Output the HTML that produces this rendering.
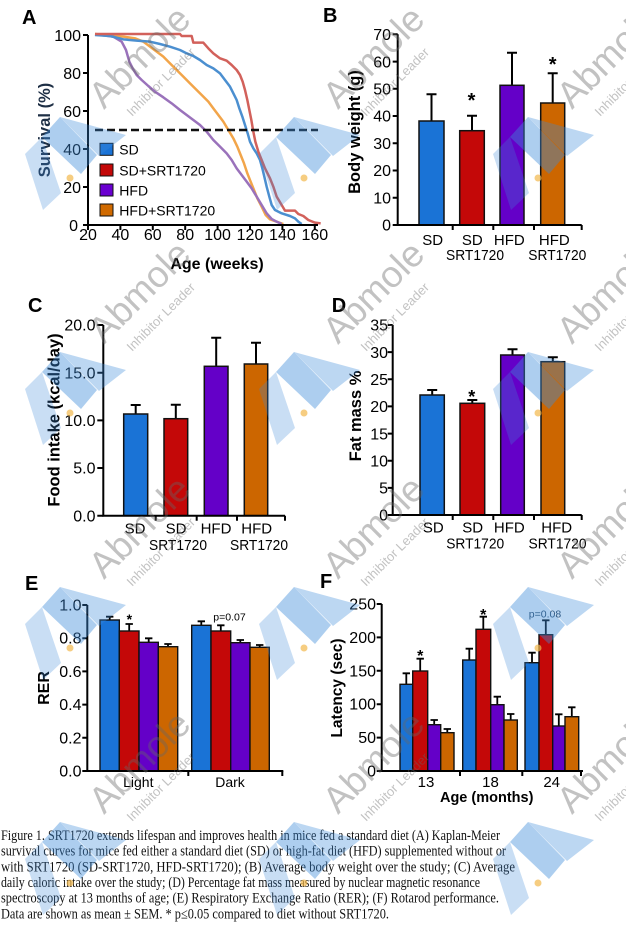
<!DOCTYPE html>
<html><head><meta charset="utf-8"><style>
html,body{margin:0;padding:0;background:#fff;}
svg{display:block;}
</style></head><body>
<svg width="626" height="951" viewBox="0 0 626 951" xmlns="http://www.w3.org/2000/svg" font-family="'Liberation Sans', Arial, sans-serif">
<rect width="626" height="951" fill="#fff"/>

<!-- ===== Panel A ===== -->
<text x="22" y="24" font-size="20" font-weight="bold">A</text>
<g transform="scale(0.333333)" fill="none" stroke-width="7.5" stroke-linejoin="round">
<polyline stroke="#f2a54a" points="285,102 330,106 370,110 405,115 430,125 450,140 470,155 490,170 510,190 530,210 550,230 570,250 590,270 610,290 625,305 640,325 655,345 670,365 685,390 700,415 712,440 722,465 732,490 742,520 752,545 762,570 772,595 785,620 797,645 810,658 830,665 850,672"/>
<polyline stroke="#9a72bb" points="285,103 340,110 365,125 378,150 388,185 398,205 410,225 425,240 445,258 465,275 490,292 515,310 540,330 560,345 580,360 600,375 620,395 640,420 660,440 680,460 695,480 710,505 725,525 740,545 755,565 770,590 785,615 800,640 815,657 830,665 845,672"/>
<polyline stroke="#4b8fd0" points="285,105 330,108 370,118 410,122 450,125 480,132 510,140 540,150 560,160 580,168 600,180 620,195 640,205 660,220 675,240 690,260 700,280 710,300 718,325 727,350 735,375 743,400 750,425 760,445 770,460 780,480 787,505 793,530 800,560 808,590 815,615 825,630 845,640 870,648 885,655 895,665 905,672"/>
<polyline stroke="#d2615b" points="285,102 540,102 545,108 575,108 580,128 610,128 625,145 640,160 660,175 680,182 695,195 710,210 720,225 728,245 735,270 742,300 748,330 754,360 760,395 766,425 775,455 785,480 795,505 810,535 820,560 830,590 845,615 855,632 885,632 895,642 910,648 925,660 945,668 962,670"/>
</g>
<line x1="95" y1="130" x2="318" y2="130" stroke="#111" stroke-width="2.5" stroke-dasharray="8 4"/>
<path d="M88,35 V225 H318" stroke="#000" stroke-width="2" fill="none"/>
<path d="M83,35H88 M83,73H88 M83,111H88 M83,149H88 M83,187H88 M83,225H88 M88,225V230 M120.4,225V230 M152.8,225V230 M185.2,225V230 M217.6,225V230 M250,225V230 M282.4,225V230 M314.8,225V230" stroke="#000" stroke-width="2"/>
<g font-size="16" text-anchor="end">
<text x="81" y="41">100</text><text x="81" y="79">80</text><text x="81" y="117">60</text><text x="81" y="155">40</text><text x="81" y="193">20</text><text x="78" y="231">0</text>
</g>
<g font-size="16" text-anchor="middle">
<text x="88" y="240">20</text><text x="120.4" y="240">40</text><text x="152.8" y="240">60</text><text x="185.2" y="240">80</text><text x="217.6" y="240">100</text><text x="250" y="240">120</text><text x="282.4" y="240">140</text><text x="314.8" y="240">160</text>
</g>
<text x="217" y="269" font-size="16" font-weight="bold" text-anchor="middle">Age (weeks)</text>
<text transform="translate(50,130) rotate(-90)" font-size="16.5" font-weight="bold" text-anchor="middle" fill="#1e2f45">Survival (%)</text>
<g stroke="#111" stroke-width="1">
<rect x="100" y="143.3" width="13" height="12" fill="#1a73d6"/>
<rect x="100" y="164" width="13" height="12" fill="#c40808"/>
<rect x="100" y="184" width="13" height="12" fill="#6a00d0"/>
<rect x="100" y="204" width="13" height="12" fill="#d06a00"/>
</g>
<g font-size="14">
<text x="119.3" y="154.5">SD</text><text x="119.3" y="175.5">SD+SRT1720</text><text x="119.3" y="195.5">HFD</text><text x="119.3" y="215.5">HFD+SRT1720</text>
</g>

<!-- ===== Panel B ===== -->
<text x="323" y="22" font-size="20" font-weight="bold">B</text>
<g stroke="#000" stroke-width="2">
<path d="M431.5,121V94.3 M426.5,94.3H436.5 M472,130.7V115.7 M467,115.7H477 M512,85.3V52.7 M507,52.7H517 M552.7,103V73.3 M547.7,73.3H557.7"/>
</g>
<g stroke="#111" stroke-width="1.5">
<rect x="419" y="121" width="25" height="104" fill="#1a73d6"/>
<rect x="459.7" y="130.7" width="24.6" height="94.3" fill="#c40808"/>
<rect x="500" y="85.3" width="24" height="139.7" fill="#6400c8"/>
<rect x="540.7" y="103" width="24" height="122" fill="#cc6600"/>
</g>
<path d="M397.7,34.3 V225 H581.7" stroke="#000" stroke-width="2" fill="none"/>
<path d="M392.7,34.3H397.7 M392.7,61.6H397.7 M392.7,88.8H397.7 M392.7,116H397.7 M392.7,143.3H397.7 M392.7,170.5H397.7 M392.7,197.8H397.7 M392.7,225H397.7 M452.7,225V230 M493.3,225V230 M534,225V230 M581.7,225V230" stroke="#000" stroke-width="2"/>
<g font-size="16" text-anchor="end">
<text x="391" y="40">70</text><text x="391" y="67.3">60</text><text x="391" y="94.5">50</text><text x="391" y="121.7">40</text><text x="391" y="149">30</text><text x="391" y="176.2">20</text><text x="391" y="203.5">10</text><text x="391" y="230.7">0</text>
</g>
<g font-size="15" text-anchor="middle">
<text x="432.7" y="245">SD</text><text x="472.3" y="245">SD</text><text x="509.3" y="245">HFD</text><text x="554.3" y="245">HFD</text>
<text x="475" y="260" textLength="58" lengthAdjust="spacingAndGlyphs">SRT1720</text><text x="557.3" y="260" textLength="58" lengthAdjust="spacingAndGlyphs">SRT1720</text>
</g>
<text x="471.5" y="107" font-size="20" font-weight="bold" text-anchor="middle">*</text>
<text x="552.7" y="71" font-size="20" font-weight="bold" text-anchor="middle">*</text>
<text transform="translate(360,132) rotate(-90)" font-size="16.5" font-weight="bold" text-anchor="middle">Body weight (g)</text>

<!-- ===== Panel C ===== -->
<text x="28" y="312" font-size="20" font-weight="bold">C</text>
<g stroke="#000" stroke-width="2">
<path d="M135.7,414V405 M130.7,405H140.7 M175.8,418.7V404.7 M170.8,404.7H180.8 M216.2,366.3V337.7 M211.2,337.7H221.2 M256,364V342.7 M251,342.7H261"/>
</g>
<g stroke="#111" stroke-width="1.5">
<rect x="123.7" y="414" width="24" height="101.7" fill="#1a73d6"/>
<rect x="164" y="418.7" width="23.7" height="97" fill="#c40808"/>
<rect x="204.3" y="366.3" width="23.7" height="149.4" fill="#6400c8"/>
<rect x="244.3" y="364" width="23.4" height="151.7" fill="#cc6600"/>
</g>
<path d="M103.3,325 V515.7 H285" stroke="#000" stroke-width="2" fill="none"/>
<path d="M97.3,325H103.3 M97.3,372.7H103.3 M97.3,420.4H103.3 M97.3,468H103.3 M97.3,515.7H103.3 M155.7,515.7V520.7 M196.7,515.7V520.7 M237,515.7V520.7 M285,515.7V520.7" stroke="#000" stroke-width="2"/>
<g font-size="16" text-anchor="end">
<text x="95.5" y="330.7">20.0</text><text x="95.5" y="378.4">15.0</text><text x="95.5" y="426">10.0</text><text x="95.5" y="473.7">5.0</text><text x="95.5" y="521.4">0.0</text>
</g>
<g font-size="15" text-anchor="middle">
<text x="135" y="533.5">SD</text><text x="176" y="533.5">SD</text><text x="216" y="533.5">HFD</text><text x="256.7" y="533.5">HFD</text>
<text x="178" y="550" textLength="58" lengthAdjust="spacingAndGlyphs">SRT1720</text><text x="259" y="550" textLength="58" lengthAdjust="spacingAndGlyphs">SRT1720</text>
</g>
<text transform="translate(59.5,420) rotate(-90)" font-size="16.5" font-weight="bold" text-anchor="middle">Food intake (kcal/day)</text>

<!-- ===== Panel D ===== -->
<text x="331.7" y="312" font-size="20" font-weight="bold">D</text>
<g stroke="#000" stroke-width="2">
<path d="M432.2,395V390 M427.2,390H437.2 M472.3,403.3V400 M467.3,400H477.3 M512.5,355V349.3 M507.5,349.3H517.5 M552.8,361.7V357.3 M547.8,357.3H557.8"/>
</g>
<g stroke="#111" stroke-width="1.5">
<rect x="420" y="395" width="24.3" height="120" fill="#1a73d6"/>
<rect x="460" y="403.3" width="24.7" height="111.7" fill="#c40808"/>
<rect x="500.7" y="355" width="23.6" height="160" fill="#6400c8"/>
<rect x="541" y="361.7" width="23.7" height="153.3" fill="#cc6600"/>
</g>
<path d="M392.7,325 V515 H581.7" stroke="#000" stroke-width="2" fill="none"/>
<path d="M387.7,325H392.7 M387.7,352.1H392.7 M387.7,379.3H392.7 M387.7,406.4H392.7 M387.7,433.6H392.7 M387.7,460.7H392.7 M387.7,487.9H392.7 M387.7,515H392.7 M452.7,515V520 M493.3,515V520 M534,515V520 M581.7,515V520" stroke="#000" stroke-width="2"/>
<g font-size="16" text-anchor="end">
<text x="388" y="330.7">35</text><text x="388" y="357.8">30</text><text x="388" y="385">25</text><text x="388" y="412.1">20</text><text x="388" y="439.3">15</text><text x="388" y="466.4">10</text><text x="388" y="493.6">5</text><text x="388" y="520.7">0</text>
</g>
<g font-size="15" text-anchor="middle">
<text x="433.3" y="532.5">SD</text><text x="472.7" y="532.5">SD</text><text x="509.3" y="532.5">HFD</text><text x="556.7" y="532.5">HFD</text>
<text x="475.2" y="548.5" textLength="58" lengthAdjust="spacingAndGlyphs">SRT1720</text><text x="557.5" y="548.5" textLength="58" lengthAdjust="spacingAndGlyphs">SRT1720</text>
</g>
<text x="471.8" y="403" font-size="18" font-weight="bold" text-anchor="middle">*</text>
<text transform="translate(361,416) rotate(-90)" font-size="16.5" font-weight="bold" text-anchor="middle">Fat mass %</text>

<!-- ===== Panel E ===== -->
<text x="25" y="590" font-size="20" font-weight="bold">E</text>
<g stroke="#000" stroke-width="1.8">
<path d="M109.7,620V616.7 M106,616.7H113.4 M129.2,631V624 M125.5,624H132.9 M148.7,642.3V638.3 M145,638.3H152.4 M168,646.7V644 M164.3,644H171.7
M201.3,625.3V621.3 M197.6,621.3H205 M220.8,631V625.3 M217.1,625.3H224.5 M240.3,642.7V640 M236.6,640H244 M259.7,647.3V645 M256,645H263.4"/>
</g>
<g stroke="#111" stroke-width="1.4">
<rect x="100" y="620" width="19.3" height="151" fill="#1a73d6"/>
<rect x="119.3" y="631" width="19.7" height="140" fill="#c40808"/>
<rect x="139" y="642.3" width="19.3" height="128.7" fill="#6400c8"/>
<rect x="158.3" y="646.7" width="19.4" height="124.3" fill="#cc6600"/>
<rect x="191.7" y="625.3" width="19.3" height="145.7" fill="#1a73d6"/>
<rect x="211" y="631" width="19.7" height="140" fill="#c40808"/>
<rect x="230.7" y="642.7" width="19.3" height="128.3" fill="#6400c8"/>
<rect x="250" y="647.3" width="19.3" height="123.7" fill="#cc6600"/>
</g>
<path d="M87.3,605 V771 H283.3" stroke="#000" stroke-width="2" fill="none"/>
<path d="M82.3,605H87.3 M82.3,638.2H87.3 M82.3,671.4H87.3 M82.3,704.6H87.3 M82.3,737.8H87.3 M82.3,771H87.3 M188.3,771V776 M282.3,771V776" stroke="#000" stroke-width="2"/>
<g font-size="16" text-anchor="end">
<text x="81.5" y="610.5">1.0</text><text x="81.5" y="643.7">0.8</text><text x="81.5" y="676.9">0.6</text><text x="81.5" y="710.1">0.4</text><text x="81.5" y="743.3">0.2</text><text x="81.5" y="776.5">0.0</text>
</g>
<g font-size="14" text-anchor="middle">
<text x="138.3" y="787">Light</text><text x="230" y="787">Dark</text>
</g>
<text x="129.3" y="624" font-size="14" font-weight="bold" text-anchor="middle">*</text>
<text x="229.5" y="620.5" font-size="10.5" text-anchor="middle">p=0.07</text>
<text transform="translate(49,688) rotate(-90)" font-size="16" font-weight="bold" text-anchor="middle">RER</text>

<!-- ===== Panel F ===== -->
<text x="320" y="588" font-size="20" font-weight="bold">F</text>
<g stroke="#000" stroke-width="1.8">
<path d="M406.3,684.3V673.3 M402.6,673.3H410 M420.2,671V658.7 M416.5,658.7H423.9 M434.2,724.7V720 M430.5,720H437.9 M447.3,732.7V729 M443.6,729H451
M469.3,660V648.7 M465.6,648.7H473 M483.3,629.3V616.7 M479.6,616.7H487 M497.3,704.7V696.7 M493.6,696.7H501 M510.7,720V714 M507,714H514.4
M532,662.7V652.7 M528.3,652.7H535.7 M545.8,634.7V620.3 M542.1,620.3H549.5 M558.8,726V714.3 M555.1,714.3H562.5 M571.8,716.7V707.3 M568.1,707.3H575.5"/>
</g>
<g stroke="#111" stroke-width="1.4">
<rect x="400" y="684.3" width="12.7" height="86.7" fill="#1a73d6"/>
<rect x="412.7" y="671" width="15" height="100" fill="#c40808"/>
<rect x="427.7" y="724.7" width="13" height="46.3" fill="#6400c8"/>
<rect x="440.7" y="732.7" width="13.3" height="38.3" fill="#cc6600"/>
<rect x="462.7" y="660" width="13.3" height="111" fill="#1a73d6"/>
<rect x="476" y="629.3" width="14.7" height="141.7" fill="#c40808"/>
<rect x="490.7" y="704.7" width="13.3" height="66.3" fill="#6400c8"/>
<rect x="504" y="720" width="13.3" height="51" fill="#cc6600"/>
<rect x="525" y="662.7" width="14" height="108.3" fill="#1a73d6"/>
<rect x="539" y="634.7" width="13.7" height="136.3" fill="#c40808"/>
<rect x="552.7" y="726" width="12.3" height="45" fill="#6400c8"/>
<rect x="565" y="716.7" width="13.7" height="54.3" fill="#cc6600"/>
</g>
<path d="M381.7,604 V771 H583" stroke="#000" stroke-width="2" fill="none"/>
<path d="M376.7,604H381.7 M376.7,637.4H381.7 M376.7,670.8H381.7 M376.7,704.2H381.7 M376.7,737.6H381.7 M376.7,771H381.7 M460,771V776 M522.3,771V776 M581,771V776" stroke="#000" stroke-width="2"/>
<g font-size="16" text-anchor="end">
<text x="376" y="609.5">250</text><text x="376" y="642.9">200</text><text x="376" y="676.3">150</text><text x="376" y="709.7">100</text><text x="376" y="743.1">50</text><text x="376" y="776.5">0</text>
</g>
<g font-size="15" text-anchor="middle">
<text x="426" y="787">13</text><text x="490.5" y="787">18</text><text x="551.7" y="787">24</text>
</g>
<text x="486.7" y="802" font-size="14.5" font-weight="bold" text-anchor="middle">Age (months)</text>
<text x="420.2" y="661" font-size="16" font-weight="bold" text-anchor="middle">*</text>
<text x="483.3" y="620" font-size="16" font-weight="bold" text-anchor="middle">*</text>
<text x="545" y="617.5" font-size="10.5" text-anchor="middle" fill="#2a4560">p=0.08</text>
<text transform="translate(342,688) rotate(-90)" font-size="15.5" font-weight="bold" text-anchor="middle">Latency (sec)</text>

<!-- ===== Caption ===== -->
<g font-family="'Liberation Serif', 'Times New Roman', serif" font-size="14.5" fill="#111">
<text x="1" y="840" textLength="499" lengthAdjust="spacingAndGlyphs">Figure 1. SRT1720 extends lifespan and improves health in mice fed a standard diet (A) Kaplan-Meier</text>
<text x="1" y="855.7" textLength="505" lengthAdjust="spacingAndGlyphs">survival curves for mice fed either a standard diet (SD) or high-fat diet (HFD) supplemented without or</text>
<text x="1" y="871.3" textLength="514" lengthAdjust="spacingAndGlyphs">with SRT1720 (SD-SRT1720, HFD-SRT1720); (B) Average body weight over the study; (C) Average</text>
<text x="1" y="887" textLength="479" lengthAdjust="spacingAndGlyphs">daily caloric intake over the study; (D) Percentage fat mass measured by nuclear magnetic resonance</text>
<text x="1" y="902.7" textLength="498" lengthAdjust="spacingAndGlyphs">spectroscopy at 13 months of age; (E) Respiratory Exchange Ratio (RER); (F) Rotarod performance.</text>
<text x="1" y="918.3" textLength="388" lengthAdjust="spacingAndGlyphs">Data are shown as mean ± SEM. * p≤0.05 compared to diet without SRT1720.</text>
</g>

<!-- ===== Watermarks ===== -->
<defs>
<g id="wm">
<polygon points="-45,-24 -28,-41 -9,15 -27,32" fill="#3c8ad8" fill-opacity="0.28"/>
<polygon points="-28,-41 -10,-61 27,-23 11,-4" fill="#3c8ad8" fill-opacity="0.42"/>
<polygon points="-10,-61 56,-43 29,-22" fill="#3c8ad8" fill-opacity="0.34"/>
<circle cx="0" cy="0" r="3.5" fill="#f2b84b" fill-opacity="0.7"/>
</g>
</defs>
<use href="#wm" x="70" y="178"/><use href="#wm" x="304" y="178"/><use href="#wm" x="538" y="178"/>
<use href="#wm" x="70" y="413"/><use href="#wm" x="304" y="413"/><use href="#wm" x="538" y="413"/>
<use href="#wm" x="70" y="648"/><use href="#wm" x="304" y="648"/><use href="#wm" x="538" y="648"/>
<use href="#wm" x="70" y="883"/><use href="#wm" x="304" y="883"/><use href="#wm" x="538" y="883"/>
<g fill="#666" fill-opacity="0.4">
<text transform="translate(104,110) rotate(-45)" font-size="37">Abmole</text>
<text transform="translate(338,110) rotate(-45)" font-size="37">Abmole</text>
<text transform="translate(572,110) rotate(-45)" font-size="37">Abmole</text>
<text transform="translate(104,345) rotate(-45)" font-size="37">Abmole</text>
<text transform="translate(338,345) rotate(-45)" font-size="37">Abmole</text>
<text transform="translate(572,345) rotate(-45)" font-size="37">Abmole</text>
<text transform="translate(104,580) rotate(-45)" font-size="37">Abmole</text>
<text transform="translate(338,580) rotate(-45)" font-size="37">Abmole</text>
<text transform="translate(572,580) rotate(-45)" font-size="37">Abmole</text>
<text transform="translate(104,815) rotate(-45)" font-size="37">Abmole</text>
<text transform="translate(338,815) rotate(-45)" font-size="37">Abmole</text>
<text transform="translate(572,815) rotate(-45)" font-size="37">Abmole</text>
<text transform="translate(132,117) rotate(-45)" font-size="13">Inhibitor Leader</text>
<text transform="translate(366,117) rotate(-45)" font-size="13">Inhibitor Leader</text>
<text transform="translate(600,117) rotate(-45)" font-size="13">Inhibitor Leader</text>
<text transform="translate(132,352) rotate(-45)" font-size="13">Inhibitor Leader</text>
<text transform="translate(366,352) rotate(-45)" font-size="13">Inhibitor Leader</text>
<text transform="translate(600,352) rotate(-45)" font-size="13">Inhibitor Leader</text>
<text transform="translate(132,587) rotate(-45)" font-size="13">Inhibitor Leader</text>
<text transform="translate(366,587) rotate(-45)" font-size="13">Inhibitor Leader</text>
<text transform="translate(600,587) rotate(-45)" font-size="13">Inhibitor Leader</text>
<text transform="translate(132,822) rotate(-45)" font-size="13">Inhibitor Leader</text>
<text transform="translate(366,822) rotate(-45)" font-size="13">Inhibitor Leader</text>
<text transform="translate(600,822) rotate(-45)" font-size="13">Inhibitor Leader</text>
</g>
</svg>
</body></html>
